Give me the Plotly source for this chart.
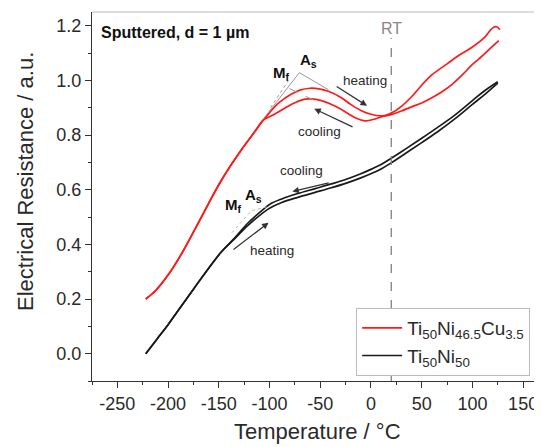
import plotly.graph_objects as go

# ---------------- data ----------------
# Ti50Ni46.5Cu3.5 (red) heating: starts at -222, upper branch, crosses near RT, lower-right branch
cu_heat_T = [-222, -212, -199, -186, -172, -160, -150, -138, -127, -115, -106, -100, -95, -90, -80, -70, -60, -50,
             -42, -30, -20, -10, 0, 10, 18, 30, 40, 50, 60, 70, 80, 90, 100, 110, 120, 126]
cu_heat_R = [0.200, 0.232, 0.293, 0.370, 0.466, 0.550, 0.618, 0.690, 0.750, 0.810, 0.855, 0.882, 0.903, 0.920,
             0.946, 0.964, 0.971, 0.968, 0.960, 0.938, 0.912, 0.890, 0.876, 0.870, 0.873, 0.888, 0.903, 0.917,
             0.936, 0.958, 0.985, 1.020, 1.058, 1.090, 1.125, 1.145]
# cooling: from upper-right end back down, lower-left branch, merging below -106
cu_cool_T = [127, 124, 120, 112, 100, 86, 75, 60, 50, 40, 30, 20, 10, 0, -6, -15, -22, -35, -48, -58, -65, -75,
             -85, -97, -106, -115, -127, -138, -150, -160, -172, -186, -199, -212, -222]
cu_cool_R = [1.185, 1.196, 1.192, 1.157, 1.122, 1.090, 1.060, 1.020, 0.982, 0.940, 0.905, 0.880, 0.866, 0.855,
             0.852, 0.862, 0.877, 0.905, 0.925, 0.932, 0.931, 0.918, 0.898, 0.872, 0.855, 0.810, 0.750, 0.690,
             0.618, 0.550, 0.466, 0.370, 0.293, 0.232, 0.200]

# Ti50Ni50 (black)
ni_heat_T = [-222, -211, -200, -175, -148, -135, -121, -110, -100, -88, -72, -55, -39, -25, -10, 1, 10, 20, 35,
             50, 65, 82, 100, 112, 125]
ni_heat_R = [0.000, 0.053, 0.106, 0.236, 0.370, 0.418, 0.470, 0.505, 0.532, 0.553, 0.572, 0.590, 0.607, 0.623,
             0.643, 0.660, 0.676, 0.698, 0.735, 0.772, 0.810, 0.857, 0.912, 0.948, 0.990]
ni_cool_T = [125, 112, 100, 82, 65, 50, 35, 20, 10, 1, -10, -25, -39, -55, -72, -88, -100, -110, -121, -135,
             -148, -175, -200, -211, -222]
ni_cool_R = [0.995, 0.962, 0.926, 0.871, 0.826, 0.788, 0.751, 0.715, 0.692, 0.676, 0.658, 0.637, 0.621, 0.604,
             0.586, 0.566, 0.546, 0.516, 0.479, 0.421, 0.370, 0.236, 0.106, 0.053, 0.000]

# tangent constructions (transformation temperatures)
cu_tan_T = [-105, -70.6, -42]
cu_tan_R = [0.864, 1.028, 0.966]
cu_dot_T = [-99, -81.4]
cu_dot_R = [0.900, 0.999]
cu_dash_T = [-80.4, -51]
cu_dash_R = [0.970, 0.918]
ni_tan_T = [-137, -118, -100]
ni_tan_R = [0.443, 0.523, 0.540]

RT = 20
RT_top = 1.155
x_ticks = [-250, -200, -150, -100, -50, 0, 50, 100, 150]
x_labels = ["-250", "-200", "-150", "-100", "-50", "0", "50", "100", "150"]
y_ticks = [0.0, 0.2, 0.4, 0.6, 0.8, 1.0, 1.2]
y_labels = ["0.0", "0.2", "0.4", "0.6", "0.8", "1.0", "1.2"]

RED = "#ff1a1a"
BLACK = "#1a1a1a"
GRAY = "#999999"
TXT = "#2a2a2a"
FONT = "Liberation Sans, Arial, sans-serif"

fig = go.Figure()

fig.add_trace(go.Scatter(x=cu_heat_T, y=cu_heat_R, mode="lines", line=dict(color=RED, width=1.7, shape="spline"),
                         name="Ti<sub>50</sub>Ni<sub>46.5</sub>Cu<sub>3.5</sub>", legendgroup="cu"))
fig.add_trace(go.Scatter(x=cu_cool_T, y=cu_cool_R, mode="lines", line=dict(color=RED, width=1.7, shape="spline"),
                         showlegend=False, legendgroup="cu"))
fig.add_trace(go.Scatter(x=ni_heat_T, y=ni_heat_R, mode="lines", line=dict(color=BLACK, width=1.7, shape="spline"),
                         name="Ti<sub>50</sub>Ni<sub>50</sub>", legendgroup="ni"))
fig.add_trace(go.Scatter(x=ni_cool_T, y=ni_cool_R, mode="lines", line=dict(color=BLACK, width=1.7, shape="spline"),
                         showlegend=False, legendgroup="ni"))

for tx, ty, dash, col in [(cu_tan_T, cu_tan_R, "solid", GRAY), (cu_dot_T, cu_dot_R, "dot", GRAY),
                          (cu_dash_T, cu_dash_R, "dash", GRAY), (ni_tan_T, ni_tan_R, "dot", "#bbbbbb")]:
    fig.add_trace(go.Scatter(x=tx, y=ty, mode="lines", line=dict(color=col, width=1, dash=dash),
                             showlegend=False, hoverinfo="skip"))

# RT line
fig.add_shape(type="line", xref="x", yref="y", x0=RT, x1=RT, y0=-0.1, y1=RT_top,
              line=dict(color="#808080", width=1.3, dash="dash"))
# top frame line
fig.add_shape(type="line", xref="paper", yref="paper", x0=0, x1=1, y0=1, y1=1,
              line=dict(color="#bbbbbb", width=1))

ann = []
ann.append(dict(x=-268, y=1.175, text="<b>Sputtered, d = 1 µm</b>", xanchor="left", yanchor="middle",
                showarrow=False, font=dict(size=16, color="#111111")))
ann.append(dict(x=RT, y=1.19, text="RT", showarrow=False, font=dict(size=16, color="#888888")))
# red labels
ann.append(dict(x=-5.9, y=0.999, text="heating", showarrow=False, font=dict(size=13.5, color=TXT)))
ann.append(dict(x=-51, y=0.812, text="cooling", showarrow=False, font=dict(size=13.5, color=TXT)))
ann.append(dict(x=-88, y=1.025, text="<b>M<sub>f</sub></b>", showarrow=False, font=dict(size=15, color="#111111")))
ann.append(dict(x=-62, y=1.072, text="<b>A<sub>s</sub></b>", showarrow=False, font=dict(size=15, color="#111111")))
# black labels
ann.append(dict(x=-68.6, y=0.67, text="cooling", showarrow=False, font=dict(size=13.5, color=TXT)))
ann.append(dict(x=-98, y=0.377, text="heating", showarrow=False, font=dict(size=13.5, color=TXT)))
ann.append(dict(x=-136, y=0.542, text="<b>M<sub>f</sub></b>", showarrow=False, font=dict(size=15, color="#111111")))
ann.append(dict(x=-116, y=0.578, text="<b>A<sub>s</sub></b>", showarrow=False, font=dict(size=15, color="#111111")))
# axis titles
ann.append(dict(x=0.5, y=-0.138, xref="paper", yref="paper", text="Temperature / °C", showarrow=False,
                xanchor="center", yanchor="middle", font=dict(size=22, color=TXT)))
ann.append(dict(x=-0.149, y=0.542, xref="paper", yref="paper", text="Electrical Resistance / a.u.",
                showarrow=False, textangle=-90, xanchor="center", yanchor="middle", font=dict(size=22, color=TXT)))
# arrows
for (x0, y0, x1, y1) in [(-35.3, 0.981, -3.9, 0.907), (-16.7, 0.827, -55.9, 0.896),
                         (-40.2, 0.626, -77.5, 0.593), (-137, 0.377, -101, 0.479)]:
    ann.append(dict(x=x1, y=y1, ax=x0, ay=y0, axref="x", ayref="y", xref="x", yref="y", text="",
                    showarrow=True, arrowhead=2, arrowsize=1, arrowwidth=1.3, arrowcolor="#333333"))

# page body has an 8px default margin, so the figure is 8px smaller than the window
fig.update_layout(
    width=534, height=439,
    margin=dict(l=84, r=0, t=4, b=66),
    paper_bgcolor="white", plot_bgcolor="white",
    font=dict(family=FONT, color=TXT),
    annotations=ann,
    showlegend=True,
    legend=dict(x=0.587, y=0.198, xanchor="left", yanchor="top", bordercolor="#bbbbbb", borderwidth=1,
                font=dict(size=19, color=TXT), bgcolor="white", itemwidth=40, tracegroupgap=0),
    xaxis=dict(range=[-275, 168.6], tickvals=x_ticks, ticktext=x_labels, ticks="outside", ticklen=6, tickwidth=1.2,
               tickcolor="#333333", showline=True, linecolor="#333333", linewidth=1.2, showgrid=False,
               zeroline=False, tickfont=dict(size=18, color=TXT), automargin=False,
               minor=dict(dtick=25, ticks="outside", ticklen=3, tickcolor="#333333", showgrid=False)),
    yaxis=dict(range=[-0.1, 1.25], tickvals=y_ticks, ticktext=y_labels, ticks="outside", ticklen=6, tickwidth=1.2,
               tickcolor="#333333", showline=True, linecolor="#333333", linewidth=1.2, showgrid=False,
               zeroline=False, tickfont=dict(size=18, color=TXT), automargin=False,
               minor=dict(dtick=0.1, ticks="outside", ticklen=3, tickcolor="#333333", showgrid=False)),
)

fig.write_html("out.html")
